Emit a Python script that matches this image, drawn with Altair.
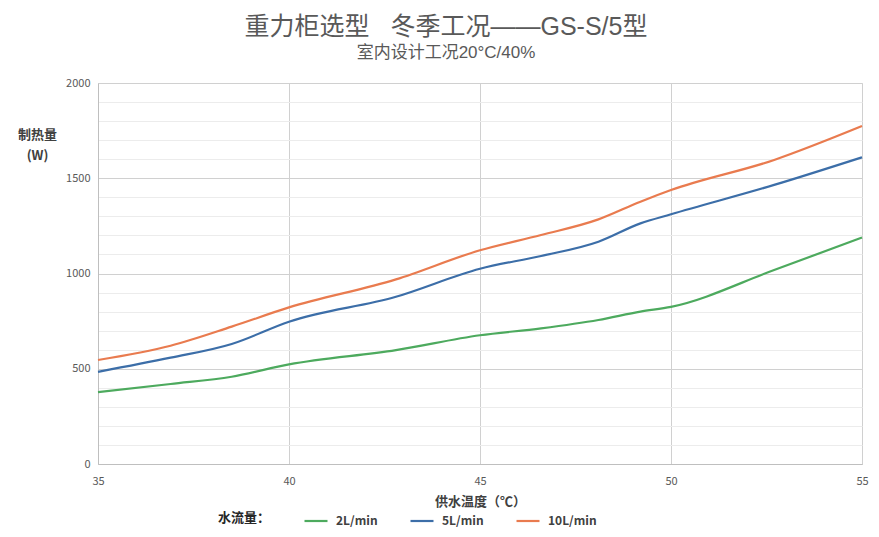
import altair as alt
import pandas as pd

temps = [35, 36.9, 38.5, 40, 42.8, 45, 46.6, 48.1, 49.2, 50, 52.7, 55]
flow_2 = [377, 420, 458, 523, 598, 676, 712, 756, 800, 825, 1018, 1189]
flow_5 = [484, 558, 630, 747, 878, 1025, 1092, 1167, 1263, 1311, 1465, 1610]
flow_10 = [546, 621, 721, 822, 969, 1122, 1202, 1284, 1377, 1438, 1596, 1774]
series = ["2L/min", "5L/min", "10L/min"]
colors = ["#4DAA5E", "#3C6EA8", "#E97B4F"]
x_ticks = [35, 40, 45, 50, 55]
y_grid = list(range(0, 2001, 100))

rows = []
for name, vals in zip(series, [flow_2, flow_5, flow_10]):
    for t, v in zip(temps, vals):
        rows.append({"temp": t, "power": v, "series": name})
df = pd.DataFrame(rows)

FONT = "Noto Sans CJK SC"
TITLE_FONT = "Liberation Sans, Noto Sans CJK SC"

chart = alt.Chart(df).mark_line(strokeWidth=2.2, interpolate="monotone").encode(
    x=alt.X(
        "temp:Q",
        scale=alt.Scale(domain=[35, 55], nice=False, zero=False),
        axis=alt.Axis(
            values=x_ticks, title="供水温度（℃）", ticks=False, labelFlush=False,
            labelPadding=11, labelFontSize=11, labelColor="#595959",
            titleFontSize=13, titleColor="#404040", titleFontWeight="bold",
            titlePadding=9, gridColor="#d0d0d0", domainColor="#bfbfbf",
            labelFont=FONT, titleFont=FONT,
        ),
    ),
    y=alt.Y(
        "power:Q",
        scale=alt.Scale(domain=[0, 2000], nice=False),
        axis=alt.Axis(
            values=y_grid, format="d", ticks=False, labelOverlap=False,
            labelExpr="datum.value % 500 === 0 ? datum.label : ''",
            labelPadding=8, labelFontSize=11, labelColor="#595959",
            gridColor={"condition": {"test": "datum.value % 500 === 0", "value": "#d0d0d0"}, "value": "#ececec"},
            domainColor="#bfbfbf",
            title=["制热量", "(W)"], titleAngle=0, titleAlign="center",
            titleBaseline="top", titleX=-61, titleY=45, titleLineHeight=21,
            titleFontSize=13, titleFontWeight="bold", titleColor="#404040",
            labelFont=FONT, titleFont=FONT,
        ),
    ),
    color=alt.Color(
        "series:N",
        scale=alt.Scale(domain=series, range=colors),
        legend=alt.Legend(
            orient="none", legendX=120, legendY=425, direction="horizontal",
            title="水流量：", titleOrient="left", titlePadding=32,
            titleFontSize=13, titleFontWeight="bold", titleColor="#262626",
            symbolType="stroke", symbolStrokeWidth=2.2, symbolSize=529,
            labelFontSize=12, labelFontWeight="bold", labelColor="#404040",
            labelOffset=7, columnPadding=28, labelFont=FONT, titleFont=FONT,
        ),
    ),
).properties(
    width=764,
    height=381,
    title=alt.TitleParams(
        text="重力柜选型\u00a0\u00a0\u00a0冬季工况——GS-S/5型",
        subtitle="室内设计工况20°C/40%",
        anchor="middle", dx=-34, offset=16,
        fontSize=25, fontWeight="normal", color="#595959", font=TITLE_FONT,
        subtitleFontSize=17, subtitleColor="#595959", subtitleFont=TITLE_FONT,
        subtitleFontWeight="normal", subtitlePadding=5,
    ),
    autosize=alt.AutoSizeParams(type="none"),
    padding={"left": 90, "top": 75, "right": 9, "bottom": 65},
).configure_view(stroke=None).configure(background="white")

chart.save("out.html", embed_options={"renderer": "svg", "actions": False})
